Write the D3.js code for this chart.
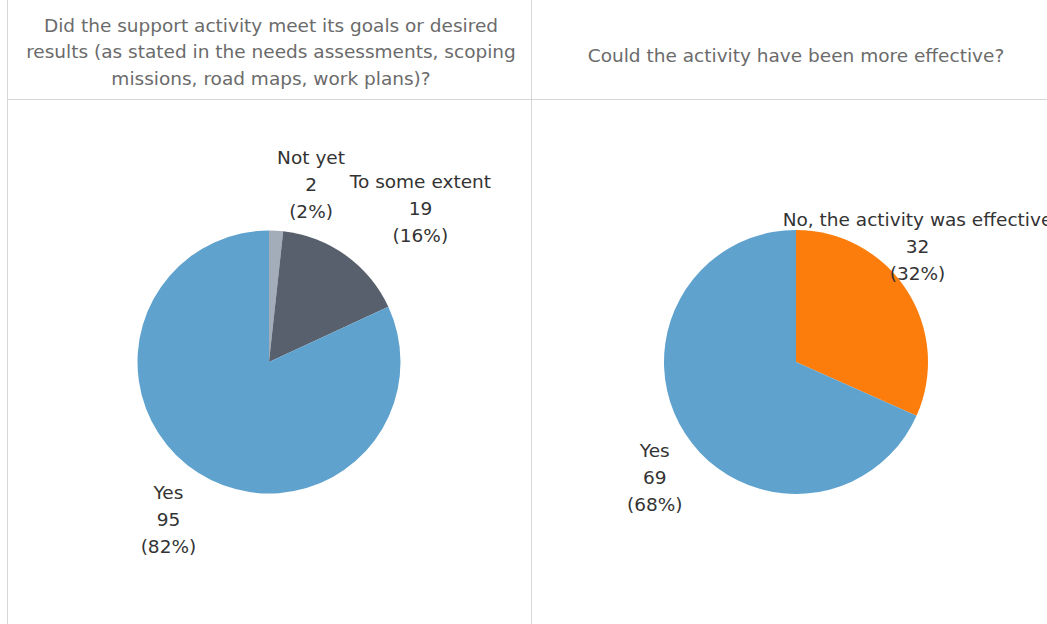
<!DOCTYPE html>
<html><head><meta charset="utf-8">
<script src="https://cdn.jsdelivr.net/npm/d3@7"></script>
<style>
body{margin:0;background:#fff;overflow:hidden}
svg{display:block;font-family:"DejaVu Sans",sans-serif}
</style></head>
<body><svg id="chart" width="1047" height="624"></svg>
<script>
// ---- data ----
const titleLeft = ["Did the support activity meet its goals or desired",
                   "results (as stated in the needs assessments, scoping",
                   "missions, road maps, work plans)?"];
const titleRight = ["Could the activity have been more effective?"];
const leftCategories = ["Not yet", "To some extent", "Yes"];
const leftValues = [2, 19, 95];
const leftPercents = ["2%", "16%", "82%"];
const rightCategories = ["No, the activity was effective", "Yes"];
const rightValues = [32, 69];
const rightPercents = ["32%", "68%"];

// ---- styling / layout ----
const W = 1047, H = 624;
const colorMap = {"Not yet":"#a3acb9","To some extent":"#57606c","Yes":"#5fa2ce",
                  "No, the activity was effective":"#fc7d0b"};
// label anchor: [radius factor, angle offset in degrees] relative to slice mid-angle
const leftLabelPos = [[1.39, 10.2], [1.64, 8.9], [1.42, 0]];
const rightLabelPos = [[1.27, -10.6], [1.38, -6.2]];

const svg = d3.select("#chart");
const gridColor = "#d6d6d6";
svg.append("line").attr("x1",7.5).attr("x2",7.5).attr("y1",0).attr("y2",H).attr("stroke",gridColor);
svg.append("line").attr("x1",531.5).attr("x2",531.5).attr("y1",0).attr("y2",H).attr("stroke",gridColor);
svg.append("line").attr("x1",7).attr("x2",W).attr("y1",99.5).attr("y2",99.5).attr("stroke",gridColor);

function titles(lines, cx, y0){
  const lh = 26.5;
  const t = svg.append("text").attr("text-anchor","middle")
     .attr("font-size",18.5).attr("fill","#6b6b6b");
  lines.forEach((l,i)=>t.append("tspan").attr("x",cx).attr("y",y0+i*lh).text(l));
}
titles(titleLeft, 271, 31.5);
titles(titleRight, 796, 61.5);

function drawPie(cx, cy, r, cats, vals, pcts, labelPos){
  const data = cats.map((c,i)=>({cat:c, value:vals[i], pct:pcts[i], lp:labelPos[i]}));
  const pie = d3.pie().value(d=>d.value).sort(null);
  const arc = d3.arc().innerRadius(0).outerRadius(r);
  const g = svg.append("g").attr("transform",`translate(${cx},${cy})`);
  const arcs = pie(data);
  g.selectAll("path").data(arcs).join("path")
    .attr("d",arc).attr("fill",d=>colorMap[d.data.cat]);
  const lh = 27;
  arcs.forEach(a=>{
    const mid = (a.startAngle+a.endAngle)/2 + a.data.lp[1]*Math.PI/180;
    const rr = r*a.data.lp[0];
    const x = rr*Math.sin(mid), y = -rr*Math.cos(mid);
    const t = g.append("text").attr("text-anchor","middle")
      .attr("font-size",18.5).attr("fill","#333333");
    [a.data.cat, String(a.data.value), "("+a.data.pct+")"].forEach((s,i)=>{
      t.append("tspan").attr("x",x).attr("y",y+(i-1)*lh+6.5).text(s);
    });
  });
}
drawPie(269, 362, 131.5, leftCategories, leftValues, leftPercents, leftLabelPos);
drawPie(796, 362, 132, rightCategories, rightValues, rightPercents, rightLabelPos);
</script></body></html>
